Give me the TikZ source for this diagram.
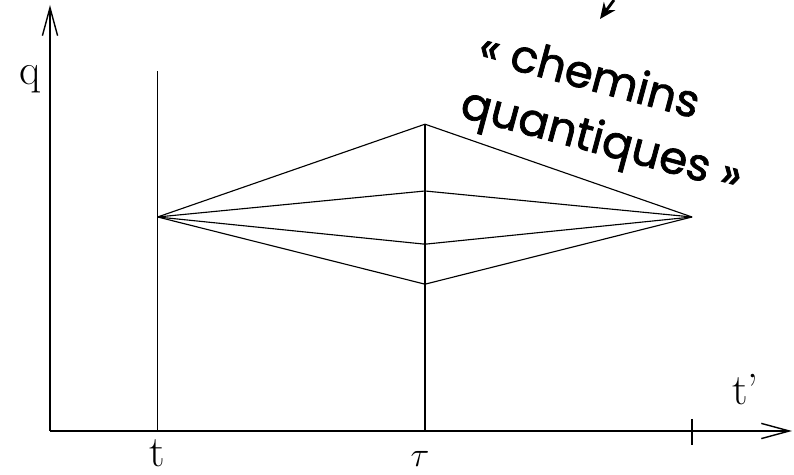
\documentclass[tikz,border=0pt]{standalone}
\usepackage{fontspec}
\newfontfamily\handfont[FakeBold=1.6]{Poppins}
\usetikzlibrary{arrows.meta}

\begin{document}
\begin{tikzpicture}[every node/.style={font=\fontsize{31}{36}\selectfont, inner sep=0pt},
    axis/.style={line width=1pt, -{Straight Barb[length=0.7cm, width=0.38cm, line width=1pt]}},
    path/.style={line width=0.8pt},
    hand/.style={font=\handfont\fontsize{32}{40}\selectfont, rotate=-15}]

\useasboundingbox (0, 0) rectangle (19.85, 11.875);

% =============================================================================
% Axes
% =============================================================================
\coordinate (origin) at (1.25, 1.1);
\coordinate (qend) at (1.25, 11.75);
\coordinate (tend) at (19.8, 1.1);
\draw[axis] (origin) -- (qend);
\draw[axis] (origin) -- (tend);

\node[anchor=base] (qlabel) at (0.75, 9.75) {q};
\node[anchor=base west] (tplabel) at (18.3, 1.75) {t'};

% Vertical lines at t and tau
\coordinate (tbase) at (3.94, 1.1);
\coordinate (ttop) at (3.94, 10.1);
\coordinate (taubase) at (10.625, 1.1);
\coordinate (tautop) at (10.625, 8.77);
\draw[path] (tbase) -- (ttop);
\draw[path] (taubase) -- (tautop);
\node[anchor=base] (tlabel) at (3.94, 0.2) {t};
\node[anchor=base] (taulabel) at (10.5, 0.2) {$\tau$};

% Tick at the end point
\coordinate (ticktop) at (17.3, 1.4);
\coordinate (tickbot) at (17.3, 0.75);
\draw[line width=1.2pt] (ticktop) -- (tickbot);

% =============================================================================
% Paths
% =============================================================================
\coordinate (start) at (3.94, 6.45);
\coordinate (stop) at (17.3, 6.45);
\coordinate (p1) at (10.625, 8.77);
\coordinate (p2) at (10.625, 7.1);
\coordinate (p3) at (10.625, 5.77);
\coordinate (p4) at (10.625, 4.77);
\foreach \p in {p1, p2, p3, p4}
    \draw[path] (start) -- (\p) -- (stop);

% =============================================================================
% Label
% =============================================================================
\node[hand] (chemins) at (14.75, 10.05) {« chemins};
\node[hand] (quantiques) at (15.025, 8.3) {quantiques »};
\coordinate (arrowfrom) at (15.35, 11.875);
\coordinate (arrowto) at (15.0, 11.4);
\draw[line width=2pt, -{Stealth[length=0.4cm, width=0.35cm]}] (arrowfrom) -- (arrowto);

\end{tikzpicture}
\end{document}
